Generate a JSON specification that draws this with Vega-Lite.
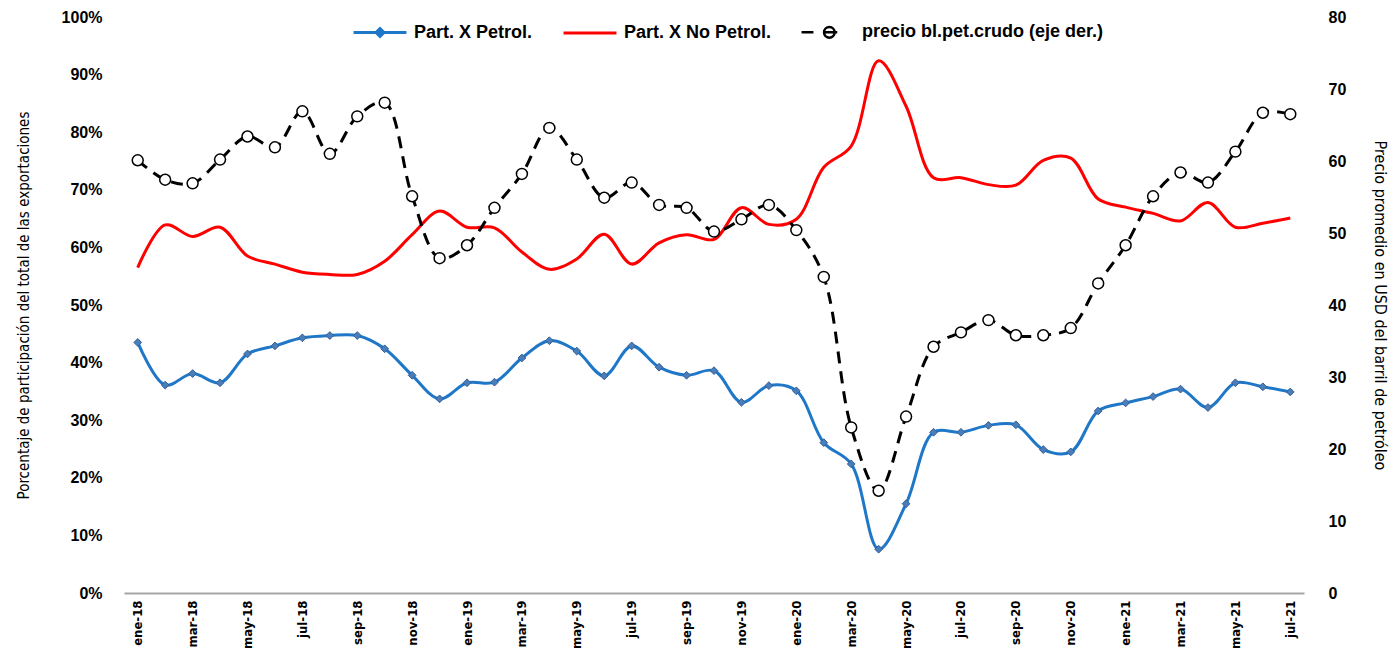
{
  "$schema": "https://vega.github.io/schema/vega-lite/v6.json",
  "autosize": {"type": "none"},
  "padding": {"left": 124, "top": 17, "right": 91, "bottom": 58},
  "width": 1180,
  "height": 576,
  "background": "white",
  "config": {
    "font": "Liberation Sans",
    "view": {"stroke": null},
    "axis": {"grid": false, "ticks": false, "labelFontWeight": "bold", "labelColor": "#000", "titleColor": "#000"}
  },
  "data": {"values": [
    {"m":"ene-18","p":43.5,"n":56.5,"c":60.1},
    {"m":"feb-18","p":36.1,"n":63.9,"c":57.4},
    {"m":"mar-18","p":38.1,"n":61.9,"c":56.9},
    {"m":"abr-18","p":36.5,"n":63.5,"c":60.2},
    {"m":"may-18","p":41.5,"n":58.5,"c":63.4},
    {"m":"jun-18","p":42.9,"n":57.1,"c":61.9},
    {"m":"jul-18","p":44.3,"n":55.7,"c":66.9},
    {"m":"ago-18","p":44.7,"n":55.3,"c":61.0},
    {"m":"sep-18","p":44.7,"n":55.3,"c":66.2},
    {"m":"oct-18","p":42.4,"n":57.6,"c":68.1},
    {"m":"nov-18","p":37.8,"n":62.2,"c":55.1},
    {"m":"dic-18","p":33.7,"n":66.3,"c":46.5},
    {"m":"ene-19","p":36.5,"n":63.5,"c":48.3},
    {"m":"feb-19","p":36.6,"n":63.4,"c":53.5},
    {"m":"mar-19","p":40.8,"n":59.2,"c":58.2},
    {"m":"abr-19","p":43.8,"n":56.2,"c":64.6},
    {"m":"may-19","p":42.0,"n":58.0,"c":60.2},
    {"m":"jun-19","p":37.7,"n":62.3,"c":54.9},
    {"m":"jul-19","p":42.9,"n":57.1,"c":57.0},
    {"m":"ago-19","p":39.2,"n":60.8,"c":53.9},
    {"m":"sep-19","p":37.8,"n":62.2,"c":53.5},
    {"m":"oct-19","p":38.6,"n":61.4,"c":50.2},
    {"m":"nov-19","p":33.1,"n":66.9,"c":51.9},
    {"m":"dic-19","p":36.0,"n":64.0,"c":53.9},
    {"m":"ene-20","p":35.1,"n":64.9,"c":50.4},
    {"m":"feb-20","p":26.1,"n":73.9,"c":43.9},
    {"m":"mar-20","p":22.4,"n":77.6,"c":23.0},
    {"m":"abr-20","p":7.6,"n":92.4,"c":14.2},
    {"m":"may-20","p":15.5,"n":84.5,"c":24.5},
    {"m":"jun-20","p":27.9,"n":72.1,"c":34.2},
    {"m":"jul-20","p":27.9,"n":72.1,"c":36.2},
    {"m":"ago-20","p":29.1,"n":70.9,"c":37.9},
    {"m":"sep-20","p":29.2,"n":70.8,"c":35.8},
    {"m":"oct-20","p":24.9,"n":75.1,"c":35.8},
    {"m":"nov-20","p":24.5,"n":75.5,"c":36.8},
    {"m":"dic-20","p":31.6,"n":68.4,"c":43.0},
    {"m":"ene-21","p":33.0,"n":67.0,"c":48.3},
    {"m":"feb-21","p":34.1,"n":65.9,"c":55.1},
    {"m":"mar-21","p":35.4,"n":64.6,"c":58.4},
    {"m":"abr-21","p":32.2,"n":67.8,"c":57.0},
    {"m":"may-21","p":36.5,"n":63.5,"c":61.3},
    {"m":"jun-21","p":35.8,"n":64.2,"c":66.7},
    {"m":"jul-21","p":34.9,"n":65.1,"c":66.5}
  ]},
  "encoding": {
    "x": {
      "field": "m", "type": "ordinal", "sort": null,
      "scale": {"type": "point", "padding": 0.5},
      "axis": {
        "title": null,
        "values": ["ene-18","mar-18","may-18","jul-18","sep-18","nov-18","ene-19","mar-19","may-19","jul-19","sep-19","nov-19","ene-20","mar-20","may-20","jul-20","sep-20","nov-20","ene-21","mar-21","may-21","jul-21"],
        "labelAngle": 270, "labelAlign": "right", "labelBaseline": "middle",
        "labelFont": "DejaVu Sans Condensed, Liberation Sans", "labelFontSize": 13, "labelPadding": 7,
        "domainColor": "#a6a6a6", "domainWidth": 2
      }
    }
  },
  "layer": [
    {
      "layer": [
        {
          "transform": [{"fold": ["p", "n"], "as": ["s", "v"]}],
          "mark": {"type": "line", "interpolate": "catmull-rom", "strokeWidth": 3},
          "encoding": {
            "y": {"field": "v", "type": "quantitative",
              "scale": {"domain": [0, 100]},
              "axis": {"title": "Porcentaje  de  participación del total de las exportaciones",
                "values": [0,10,20,30,40,50,60,70,80,90,100],
                "labelExpr": "datum.value + '%'", "labelFontSize": 16, "labelPadding": 22,
                "domain": false, "titleFont": "DejaVu Sans Condensed, Liberation Sans", "titleFontSize": 15,
                "titleFontWeight": "normal", "titlePadding": 30}},
            "color": {"field": "s", "type": "nominal",
              "scale": {"domain": ["p", "n", "c"], "range": ["#1f77c8", "#ff0000", "#000000"]},
              "legend": {
                "orient": "none", "direction": "horizontal", "legendX": 247, "legendY": 6,
                "title": null, "padding": 0, "labelLimit": 500,
                "labelExpr": "datum.value == 'p' ? 'Part. X Petrol.' : datum.value == 'n' ? 'Part. X No Petrol.' : 'precio bl.pet.crudo (eje der.)'",
                "labelFontSize": 18, "labelFontWeight": "bold", "labelColor": "#000", "labelOffset": 25,
                "columnPadding": 24, "symbolSize": 2800, "symbolStrokeWidth": 3,
                "encode": {"symbols": {"update": {
                  "shape": {"signal": "datum.value == 'p' ? 'M-1,0H1M0,-0.15L0.15,0L0,0.15L-0.15,0Z' : datum.value == 'c' ? 'M-1,0H-0.55M-0.15,0H0.35M-0.15,0a0.2,0.2 0 1,0 0.4,0a0.2,0.2 0 1,0 -0.4,0' : 'M-1,0H1'"},
                  "fill": {"signal": "datum.value == 'p' ? '#4a7ebb' : datum.value == 'c' ? '#ffffff' : 'transparent'"},
                  "strokeWidth": {"signal": "datum.value == 'c' ? 2.5 : 3"}
                }}}
              }}
          }
        },
        {
          "mark": {"type": "point", "shape": "diamond", "filled": true, "size": 60, "fill": "#4a7ebb", "stroke": "#355f96", "strokeWidth": 1, "opacity": 1},
          "encoding": {
            "y": {"field": "p", "type": "quantitative", "scale": {"domain": [0, 100]},
              "title": "Porcentaje  de  participación del total de las exportaciones"}
          }
        }
      ]
    },
    {
      "layer": [
        {
          "transform": [{"fold": ["c"], "as": ["s", "v"]}],
          "mark": {"type": "line", "interpolate": "catmull-rom", "strokeWidth": 3, "strokeDash": [12, 8]},
          "encoding": {
            "y": {"field": "v", "type": "quantitative",
              "scale": {"domain": [0, 80]},
              "axis": {"orient": "right", "title": "Precio promedio en USD del barril de petróleo",
                "values": [0,10,20,30,40,50,60,70,80],
                "labelFontSize": 16, "labelPadding": 24, "domain": false,
                "titleFont": "DejaVu Sans Condensed, Liberation Sans", "titleFontSize": 16,
                "titleFontWeight": "normal", "titlePadding": 26}},
            "color": {"field": "s", "type": "nominal"}
          }
        },
        {
          "mark": {"type": "point", "shape": "circle", "filled": true, "size": 120, "fill": "#ffffff", "stroke": "#000000", "strokeWidth": 1.5, "opacity": 1},
          "encoding": {
            "y": {"field": "c", "type": "quantitative", "scale": {"domain": [0, 80]},
              "title": "Precio promedio en USD del barril de petróleo"}
          }
        }
      ]
    }
  ],
  "resolve": {"scale": {"y": "independent"}}
}
